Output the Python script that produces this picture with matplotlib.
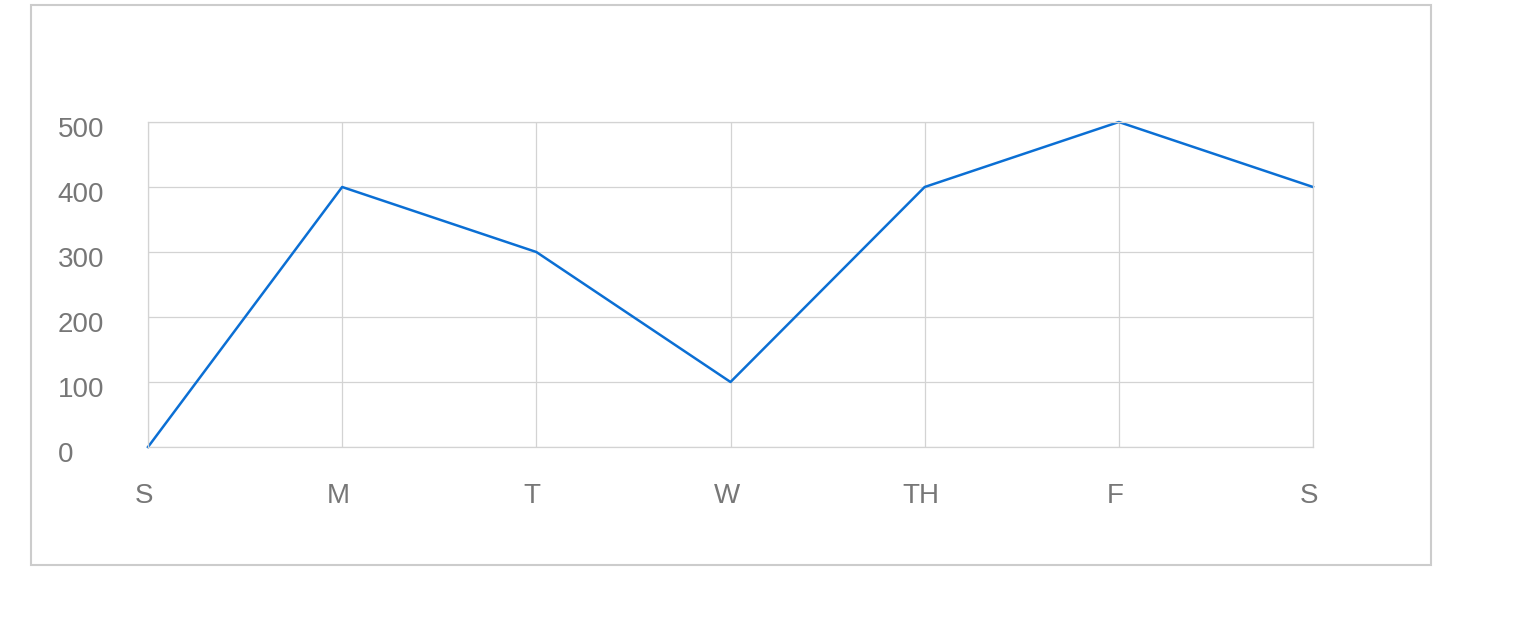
import matplotlib.pyplot as plt
import matplotlib.transforms as mtransforms
from matplotlib.patches import Rectangle

days = ['S', 'M', 'T', 'W', 'TH', 'F', 'S']
values = [0, 400, 300, 100, 400, 500, 400]
yticks = [0, 100, 200, 300, 400, 500]

plt.rcParams['font.family'] = ['Liberation Sans', 'DejaVu Sans']

W, H = 1522, 618
fig = plt.figure(figsize=(W / 100, H / 100), dpi=100)

# outer frame
fig.patches.append(Rectangle((31 / W, 1 - 565 / H), 1400 / W, 560 / H,
                             transform=fig.transFigure, fill=False,
                             edgecolor='#cccccc', linewidth=1.5))

ax = fig.add_axes([148 / W, 1 - 447 / H, (1313 - 148) / W, (447 - 122) / H])
x = list(range(len(days)))
ax.plot(x, values, color='#0b6fd4', linewidth=1.8, clip_on=False,
        solid_joinstyle='round')

ax.set_xlim(0, len(days) - 1)
ax.set_ylim(0, 500)
ax.set_xticks(x)
ax.set_xticklabels(days)
ax.set_yticks(yticks)
ax.set_yticklabels([str(v) for v in yticks])

ax.grid(True, color='#d3d3d3', linewidth=0.9)
ax.set_axisbelow(True)
for s in ax.spines.values():
    s.set_color('#d3d3d3')
    s.set_linewidth(0.9)

ax.tick_params(axis='both', length=0, labelsize=20, labelcolor='#777777')
ax.tick_params(axis='x', pad=26)
ax.tick_params(axis='y', pad=65)
for lab in ax.get_yticklabels():
    lab.set_horizontalalignment('left')
    lab.set_transform(lab.get_transform() + mtransforms.ScaledTranslation(0, -5 / 100, fig.dpi_scale_trans))
for lab in ax.get_xticklabels():
    lab.set_transform(lab.get_transform() + mtransforms.ScaledTranslation(-4 / 100, 0, fig.dpi_scale_trans))

fig.savefig('out.png', dpi=100)
